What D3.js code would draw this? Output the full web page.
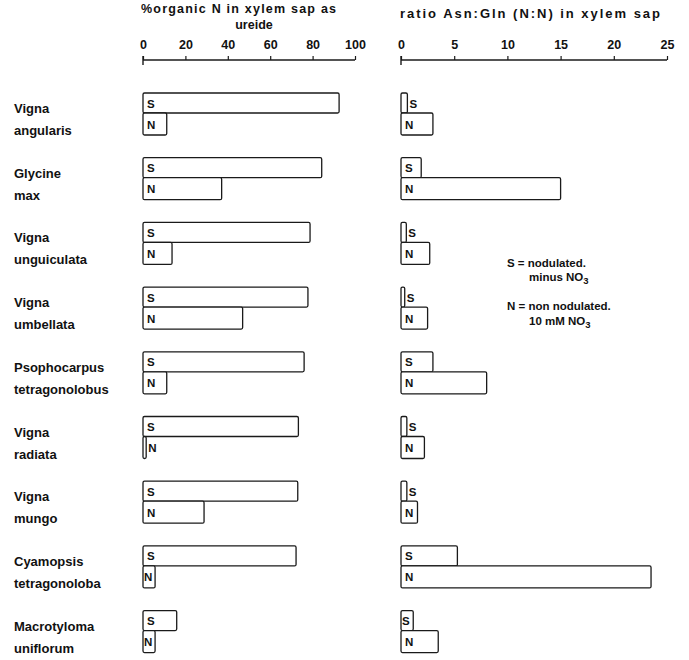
<!DOCTYPE html>
<html><head><meta charset="utf-8">
<script src="https://cdn.jsdelivr.net/npm/d3@7"></script>
<style>
body{margin:0;background:#fff;}
text{font-family:"Liberation Sans",Arial,Helvetica,sans-serif;fill:#111;}
</style></head>
<body>
<svg id="c" width="689" height="660"></svg>
<script>
const species1 = ["Vigna","Glycine","Vigna","Vigna","Psophocarpus","Vigna","Vigna","Cyamopsis","Macrotyloma"];
const species2 = ["angularis","max","unguiculata","umbellata","tetragonolobus","radiata","mungo","tetragonoloba","uniflorum"];
const ureideS = [92.5,84.3,78.8,77.8,76.0,73.3,73.0,72.2,15.9];
const ureideN = [11.2,37.1,13.7,47.0,11.2,1.5,28.8,5.7,5.7];
const ratioS = [0.6,1.9,0.5,0.35,3.0,0.55,0.55,5.3,1.15];
const ratioN = [3.0,15.0,2.7,2.5,8.05,2.2,1.55,23.5,3.5];
const ticksLeft = [0,20,40,60,80,100];
const ticksRight = [0,5,10,15,20,25];

const svg = d3.select("#c");
const ids = species1.map((d,i)=>i);
const y = d3.scalePoint().domain(ids).range([93, 610.6]);
const xL = d3.scaleLinear().domain([0,100]).range([143,355]);
const xR = d3.scaleLinear().domain([0,25]).range([401,667]);
const axisY = 60;
const ink = "#1a1a1a";

// titles
svg.append("text").attr("x",141).attr("y",13).attr("text-anchor","start")
  .attr("font-size",12.5).attr("font-weight","bold").attr("textLength",195).text("%organic N in  xylem sap  as");
svg.append("text").attr("x",254).attr("y",29).attr("text-anchor","middle")
  .attr("font-size",12.5).attr("font-weight","bold").text("ureide");
svg.append("text").attr("x",400).attr("y",18).attr("text-anchor","start")
  .attr("font-size",13).attr("font-weight","bold").attr("textLength",260).text("ratio  Asn:Gln (N:N)  in   xylem sap");

function drawAxis(x, ticks){
  const g = svg.append("g").attr("transform",`translate(0,${axisY})`);
  g.call(d3.axisTop(x).tickValues(ticks).tickSize(4).tickPadding(7).tickFormat(d3.format("d")));
  g.select(".domain").remove();
  g.selectAll(".tick line").attr("stroke",ink).attr("stroke-width",1.2);
  g.selectAll(".tick text").attr("font-size",12.5).attr("font-weight","bold").attr("fill",ink)
    .style("font-family","'Liberation Sans',Arial,sans-serif");
  g.append("line").attr("x1",x.range()[0]).attr("x2",x.range()[1]).attr("y1",0).attr("y2",0)
    .attr("stroke",ink).attr("stroke-width",1.4);
  g.append("line").attr("x1",x.range()[0]).attr("x2",x.range()[0]).attr("y1",-4).attr("y2",5)
    .attr("stroke",ink).attr("stroke-width",1.4);
}
drawAxis(xL, ticksLeft);
drawAxis(xR, ticksRight);

// species labels
ids.forEach(i=>{
  svg.append("text").attr("x",14).attr("y",y(i)+20).attr("font-size",13).attr("font-weight","bold").text(species1[i]);
  svg.append("text").attr("x",14).attr("y",y(i)+42).attr("font-size",13).attr("font-weight","bold").text(species2[i]);
});

function drawBars(x, vals, off, h, lab){
  ids.forEach(i=>{
    const x0 = x(0), x1 = x(vals[i]);
    const w = Math.max(x1-x0, 2);
    const top = y(i)+off;
    svg.append("rect").attr("x",x0).attr("y",top).attr("width",w).attr("height",h)
      .attr("rx",1.5).attr("fill","#fff").attr("stroke",ink).attr("stroke-width",1.3);
    const lx = w > 14 ? x0+4 : (w < 8 ? x1+2 : x0+1);
    svg.append("text").attr("x",lx).attr("y",top+h/2+4.5).attr("font-size",11.5).attr("font-weight","bold").text(lab);
  });
}
drawBars(xL, ureideS, 0, 20, "S");
drawBars(xL, ureideN, 20, 22, "N");
drawBars(xR, ratioS, 0, 20, "S");
drawBars(xR, ratioN, 20, 22, "N");

// legend
const lg = svg.append("g");
lg.append("text").attr("x",507).attr("y",267).attr("font-size",11.5).attr("font-weight","600").text("S = nodulated.");
lg.append("text").attr("x",529).attr("y",281).attr("font-size",11.5).attr("font-weight","600").html('minus NO<tspan dy="3" font-size="9.5">3</tspan>');
lg.append("text").attr("x",507).attr("y",310).attr("font-size",11.5).attr("font-weight","600").text("N = non nodulated.");
lg.append("text").attr("x",529).attr("y",325).attr("font-size",11.5).attr("font-weight","600").html('10 mM NO<tspan dy="3" font-size="9.5">3</tspan>');
</script>
</body></html>
